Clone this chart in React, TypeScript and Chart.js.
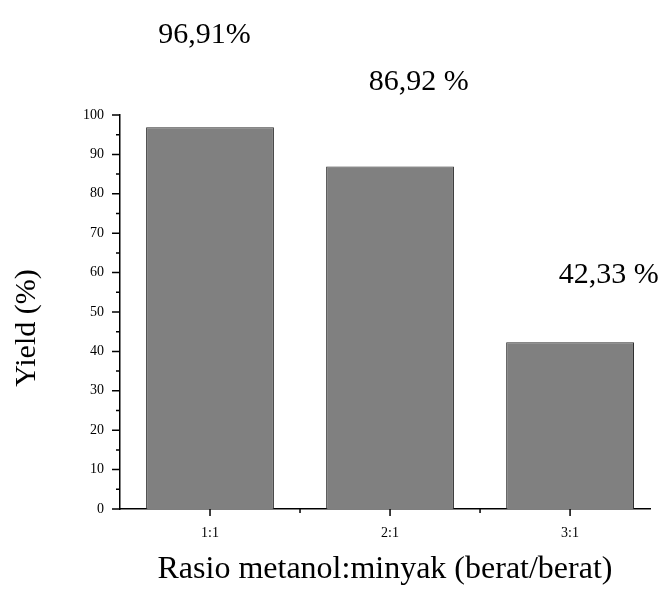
import React, { useEffect, useRef } from "react";
import { Chart, registerables } from "chart.js";

Chart.register(...registerables);

const categories = ["1:1", "2:1", "3:1"];
const categoryPositions = [1, 2, 3];
const yieldValues = [96.91, 86.92, 42.33];
const valueLabels = ["96,91%", "86,92 %", "42,33 %"];
const valueLabelX = [0.97, 2.16, 3.215];
const valueLabelY = [120.3, 108.4, 59.4];
const yTickValues = [0, 10, 20, 30, 40, 50, 60, 70, 80, 90, 100];
const yMinorValues = [5, 15, 25, 35, 45, 55, 65, 75, 85, 95];
const xMinorValues = [1.5, 2.5];
const yTitle = "Yield (%)";
const xTitle = "Rasio metanol:minyak (berat/berat)";

const SERIF = "'Liberation Serif', 'Times New Roman', serif";

const tickPlugin = {
  id: "customTicks",
  afterDraw(chart: any) {
    const ctx = chart.ctx;
    const xs = chart.scales.x;
    const ys = chart.scales.y;
    const axisX = chart.chartArea.left;
    const axisY = chart.chartArea.bottom;
    ctx.save();
    ctx.strokeStyle = "#000";
    ctx.lineWidth = 1.5;
    ctx.beginPath();
    yTickValues.forEach((v) => {
      const p = ys.getPixelForValue(v);
      ctx.moveTo(axisX, p);
      ctx.lineTo(axisX - 8, p);
    });
    yMinorValues.forEach((v) => {
      const p = ys.getPixelForValue(v);
      ctx.moveTo(axisX, p);
      ctx.lineTo(axisX - 4, p);
    });
    categoryPositions.forEach((v) => {
      const p = xs.getPixelForValue(v);
      ctx.moveTo(p, axisY);
      ctx.lineTo(p, axisY + 7);
    });
    xMinorValues.forEach((v) => {
      const p = xs.getPixelForValue(v);
      ctx.moveTo(p, axisY);
      ctx.lineTo(p, axisY + 4);
    });
    ctx.stroke();

    ctx.fillStyle = "#000";
    ctx.font = `30px ${SERIF}`;
    ctx.textAlign = "center";
    ctx.textBaseline = "middle";
    valueLabels.forEach((t, i) => {
      ctx.fillText(t, xs.getPixelForValue(valueLabelX[i]), ys.getPixelForValue(valueLabelY[i]));
    });

    // y-axis title
    ctx.save();
    ctx.translate(27, 328);
    ctx.rotate(-Math.PI / 2);
    ctx.font = `30px ${SERIF}`;
    ctx.fillText(yTitle, 0, 0);
    ctx.restore();

    ctx.restore();
  },
};

export default function App() {
  const ref = useRef<HTMLCanvasElement | null>(null);
  useEffect(() => {
    if (!ref.current) return;
    const chart = new Chart(ref.current, {
      type: "bar",
      data: {
        datasets: [
          {
            label: "Yield",
            data: categoryPositions.map((x, i) => ({ x, y: yieldValues[i] })),
            backgroundColor: "#808080",
            borderColor: "#2b2b2b",
            borderWidth: 1,
            categoryPercentage: 1,
            barPercentage: 0.71,
          },
        ],
      },
      options: {
        animation: false,
        responsive: true,
        maintainAspectRatio: false,
        layout: { padding: { top: 115, right: 9, left: 0, bottom: 0 } },
        plugins: { legend: { display: false }, tooltip: { enabled: false } },
        scales: {
          x: {
            type: "linear",
            offset: false,
            min: 0.5,
            max: 3.444,
            grid: { display: false, offset: false },
            border: { display: true, color: "#000", width: 1.5 },
            afterBuildTicks: (scale: any) => {
              scale.ticks = categoryPositions.map((v) => ({ value: v }));
            },
            afterFit: (scale: any) => {
              scale.height = 87;
            },
            ticks: {
              autoSkip: false,
              maxRotation: 0,
              padding: 8,
              color: "#000",
              font: { family: SERIF, size: 14 },
              callback: (v: any) => categories[categoryPositions.indexOf(Number(v))] ?? "",
            },
            title: {
              display: true,
              text: xTitle,
              color: "#000",
              font: { family: SERIF, size: 32, weight: "normal" },
              padding: { top: 0, bottom: 7 },
            },
          },
          y: {
            min: 0,
            max: 100,
            grid: { display: false },
            border: { display: true, color: "#000", width: 1.5 },
            afterFit: (scale: any) => {
              scale.width = 120;
            },
            ticks: {
              stepSize: 10,
              padding: 8,
              color: "#000",
              font: { family: SERIF, size: 14 },
            },
          },
        },
      },
      plugins: [tickPlugin],
    } as any);
    return () => chart.destroy();
  }, []);
  return (
    <div style={{ position: "fixed", left: 0, top: 0, width: 659, height: 596, background: "#fff" }}>
      <canvas ref={ref} />
    </div>
  );
}
